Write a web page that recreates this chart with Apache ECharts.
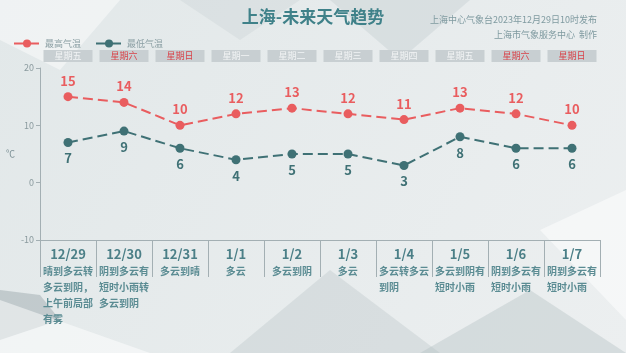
<!DOCTYPE html>
<html><head><meta charset="utf-8">
<script src="https://cdn.jsdelivr.net/npm/echarts@6/dist/echarts.min.js"></script>
<style>html,body{margin:0;padding:0;}#c{width:626px;height:353px;}</style>
</head><body><div id="c"></div>
<script>
const dates = ['12/29','12/30','12/31','1/1','1/2','1/3','1/4','1/5','1/6','1/7'];
const weekdays = ['星期五','星期六','星期日','星期一','星期二','星期三','星期四','星期五','星期六','星期日'];
const weather = [
  ['晴到多云转','多云到阴，','上午前局部','有雾'],
  ['阴到多云有','短时小雨转','多云到阴'],
  ['多云到晴'],
  ['多云'],
  ['多云到阴'],
  ['多云'],
  ['多云转多云','到阴'],
  ['多云到阴有','短时小雨'],
  ['阴到多云有','短时小雨'],
  ['阴到多云有','短时小雨']
];
const highTemps = [15,14,10,12,13,12,11,13,12,10];
const lowTemps = [7,9,6,4,5,5,3,8,6,6];
const yTicks = [-10, 0, 10, 20];

const FONT = '"Noto Sans CJK SC","Noto Sans",sans-serif';
const RED = '#e95d5f';
const TEAL = '#3f7175';
const AX = '#a3afb3';
const chart = echarts.init(document.getElementById('c'));

const richBottom = {
  d: {fontSize: 13, fontWeight: 'bold', color: '#4b7f87', lineHeight: 17, fontFamily: FONT, padding:[0,0,1,0]}
};
for (let n = 1; n <= 6; n++) {
  richBottom['w' + n] = {fontSize: 10, fontWeight: 'bold', color: '#5b8c93', width: n * 10, align: 'left', lineHeight: 16, fontFamily: FONT};
}

chart.setOption({
  backgroundColor: new echarts.graphic.LinearGradient(0, 0, 1, 1, [
    {offset: 0, color: '#e2e8e9'}, {offset: 1, color: '#eceff0'}
  ]),
  textStyle: {fontFamily: FONT},
  graphic: [
    {type: 'polygon', z: -10, silent: true, shape: {points: [[0,0],[120,0],[60,70],[0,40]]}, style: {fill: 'rgba(255,255,255,0.45)'}},
    {type: 'polygon', z: -10, silent: true, shape: {points: [[180,0],[300,0],[240,40]]}, style: {fill: 'rgba(200,210,212,0.35)'}},
    {type: 'polygon', z: -10, silent: true, shape: {points: [[330,0],[470,0],[400,60]]}, style: {fill: 'rgba(190,200,203,0.35)'}},
    {type: 'polygon', z: -10, silent: true, shape: {points: [[0,290],[40,295],[60,320],[0,340]]}, style: {fill: 'rgba(150,165,168,0.45)'}},
    {type: 'polygon', z: -10, silent: true, shape: {points: [[0,300],[150,353],[0,353]]}, style: {fill: 'rgba(255,255,255,0.5)'}},
    {type: 'polygon', z: -10, silent: true, shape: {points: [[230,353],[330,270],[440,353]]}, style: {fill: 'rgba(190,200,203,0.4)'}},
    {type: 'polygon', z: -10, silent: true, shape: {points: [[420,353],[530,290],[626,353]]}, style: {fill: 'rgba(180,192,195,0.4)'}},
    {type: 'polygon', z: -10, silent: true, shape: {points: [[540,230],[626,190],[626,320]]}, style: {fill: 'rgba(255,255,255,0.5)'}},
    {type: 'text', left: 'center', top: 8, style: {text: '上海-未来天气趋势', font: 'bold 17px ' + FONT, fill: '#3f8189'}},
    {type: 'text', right: 29, top: 15, style: {text: '上海中心气象台2023年12月29日10时发布', font: '9px ' + FONT, fill: '#7f9aa0', align: 'right'}},
    {type: 'text', right: 29, top: 30, style: {text: '上海市气象服务中心  制作', font: '9px ' + FONT, fill: '#7f9aa0', align: 'right'}}
  ],
  legend: {
    left: 8, top: 34, itemWidth: 26, itemHeight: 10, itemGap: 14,
    textStyle: {color: '#8a9ea3', fontSize: 9},
    data: ['最高气温', '最低气温']
  },
  grid: {left: 40, right: 26, top: 68, bottom: 113},
  xAxis: [
    {
      type: 'category', data: dates, position: 'bottom', boundaryGap: true,
      axisLine: {show: true, onZero: false, lineStyle: {color: AX, width: 1}},
      axisTick: {show: true, interval: 0, alignWithLabel: false, length: 37, lineStyle: {color: AX, width: 1}},
      axisLabel: {
        margin: 6, interval: 0,
        formatter: function (v, i) {
          const lines = weather[i];
          const n = Math.max.apply(null, lines.map(s => s.length));
          return '{d|' + v + '}\n' + lines.map(s => '{w' + n + '|' + s + '}').join('\n');
        },
        rich: richBottom
      }
    },
    {
      type: 'category', data: weekdays, position: 'top',
      axisLine: {show: false}, axisTick: {show: false},
      axisLabel: {
        margin: 6, interval: 0,
        formatter: function (v, i) {
          return (v === '星期六' || v === '星期日') ? '{r|' + v + '}' : '{g|' + v + '}';
        },
        rich: {
          g: {width: 49, height: 12, lineHeight: 12, align: 'center', fontSize: 9, color: '#f2f4f5', backgroundColor: '#c8cfd2', fontFamily: FONT},
          r: {width: 49, height: 12, lineHeight: 12, align: 'center', fontSize: 9, color: '#d8434a', backgroundColor: '#c8cfd2', fontFamily: FONT}
        }
      }
    }
  ],
  yAxis: {
    type: 'value', min: yTicks[0], max: yTicks[yTicks.length - 1], interval: 10,
    name: '℃', nameLocation: 'middle', nameRotate: 0, nameGap: 18,
    nameTextStyle: {color: '#7d9196', fontSize: 9},
    axisLine: {show: true, lineStyle: {color: AX}},
    axisTick: {show: true, length: 4, lineStyle: {color: AX}},
    axisLabel: {color: '#8a9a9e', fontSize: 9, margin: 6},
    splitLine: {show: false}
  },
  series: [
    {
      name: '最高气温', type: 'line', data: highTemps,
      symbol: 'circle', symbolSize: 9, color: RED,
      lineStyle: {type: [10, 5], width: 2, color: RED},
      itemStyle: {color: RED},
      label: {show: true, position: 'top', distance: 5, fontSize: 13, fontWeight: 'bold', color: RED}
    },
    {
      name: '最低气温', type: 'line', data: lowTemps,
      symbol: 'circle', symbolSize: 9, color: TEAL,
      lineStyle: {type: [10, 5], width: 2, color: TEAL},
      itemStyle: {color: TEAL},
      label: {show: true, position: 'bottom', distance: 5, fontSize: 13, fontWeight: 'bold', color: TEAL}
    }
  ]
});
</script>
</body></html>
